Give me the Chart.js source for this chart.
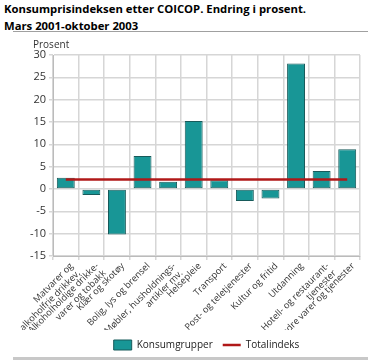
<!DOCTYPE html>
<html>
<head>
<meta charset="utf-8">
<script src="https://cdn.jsdelivr.net/npm/chart.js@4.4.0/dist/chart.umd.min.js"></script>
<style>
	body { margin: 0; background: #fff; font-family: "Open Sans", sans-serif; }
	#wrap { position: relative; width: 368px; height: 361px; overflow: hidden; }
	#title { position: absolute; left: 4px; top: 0px; font-weight: bold; font-size: 11.3px; line-height: 17px; color: #000; }
	#ruleTop { position: absolute; left: 13px; top: 31px; width: 355px; height: 1px; background: #a0a0a0; }
	#ruleBottom { position: absolute; left: 13px; top: 357px; width: 355px; height: 3px; background: #c8c8c8; }
	#box { position: absolute; left: 0; top: 33px; width: 368px; height: 327px; }
</style>
</head>
<body>
<div id="wrap">
	<div id="title">Konsumprisindeksen etter COICOP. Endring i prosent.<br>Mars 2001-oktober 2003</div>
	<div id="ruleTop"></div>
	<div id="box"><canvas id="myChart"></canvas></div>
	<div id="ruleBottom"></div>
</div>
<script>
// kategorier (flere linjer per etikett)
const categories = [
	['Matvarer og', 'alkoholfrie drikkev,'],
	['Alkoholholdige drikke-', 'varer og tobakk'],
	['Klær og skotøy'],
	['Bolig, lys og brensel'],
	['Møbler, husholdnings-', 'artikler mv.'],
	['Helsepleie'],
	['Transport'],
	['Post- og teletjenester'],
	['Kultur og fritid'],
	['Utdanning'],
	['Hotell- og restaurant-', 'tjenester'],
	['Andre varer og tjenester']
];
const konsumgrupper = [2.5, -1.35, -10.2, 7.4, 1.65, 15.2, 1.95, -2.7, -2.1, 28.1, 4.05, 8.9];
const totalindeks = [2.1, 2.1, 2.1, 2.1, 2.1, 2.1, 2.1, 2.1, 2.1, 2.1, 2.1, 2.1];
const yTicks = [-15, -10, -5, 0, 5, 10, 15, 20, 25, 30];

const tealFill = '#189696';
const tealBorder = '#175a5a';
const redLine = '#b01818';
const gridColor = '#d6d6d6';

// "Prosent" over y-aksen
const axisTitle = {
	id: 'axisTitle',
	afterDraw(chart) {
		const ctx = chart.ctx;
		ctx.save();
		ctx.font = '10px "Open Sans"';
		ctx.fillStyle = '#333';
		ctx.textBaseline = 'bottom';
		ctx.fillText('Prosent', 33, chart.chartArea.top - 5);
		ctx.restore();
	}
};

new Chart(document.getElementById('myChart'), {
	type: 'bar',
	data: {
		labels: categories,
		datasets: [{
			type: 'line',
			label: 'Totalindeks',
			data: totalindeks,
			borderColor: redLine,
			backgroundColor: redLine,
			borderWidth: 2.5,
			pointRadius: 0,
			pointStyle: 'line',
			order: 0
		}, {
			label: 'Konsumgrupper',
			data: konsumgrupper,
			backgroundColor: tealFill,
			borderColor: tealBorder,
			borderWidth: 1,
			borderSkipped: false,
			barPercentage: 0.7,
			categoryPercentage: 1,
			pointStyle: 'rect',
			order: 1
		}]
	},
	options: {
		responsive: true,
		maintainAspectRatio: false,
		animation: false,
		layout: { padding: { top: 22, right: 8, left: 0, bottom: 0 } },
		plugins: {
			legend: {
				position: 'bottom',
				fullSize: false,
				reverse: true,
				labels: {
					usePointStyle: true,
					pointStyleWidth: 18,
					boxHeight: 12,
					padding: 10,
					color: '#222',
					font: { family: '"Open Sans"', size: 10 }
				}
			},
			tooltip: { enabled: false }
		},
		scales: {
			x: {
				afterFit: (s) => { s.height = 74; },
				grid: { color: gridColor, lineWidth: 1.5, tickLength: 4, offset: true },
				border: { color: '#bbb' },
				ticks: {
					color: '#333',
					maxRotation: 45,
					minRotation: 45,
					autoSkip: false,
					padding: 1,
					labelOffset: 6,
					font: { family: '"Open Sans"', size: 9.2, lineHeight: 1.1 }
				}
			},
			y: {
				min: -15,
				max: 30,
				afterFit: (s) => { s.width = 53; },
				afterBuildTicks: (s) => { s.ticks = yTicks.map(v => ({ value: v })); },
				grid: { color: gridColor, lineWidth: 1.5, tickLength: 4 },
				border: { color: '#bbb' },
				ticks: {
					color: '#333',
					padding: 3,
					font: { family: '"Open Sans"', size: 11 }
				}
			}
		}
	},
	plugins: [axisTitle]
});
</script>
</body>
</html>
